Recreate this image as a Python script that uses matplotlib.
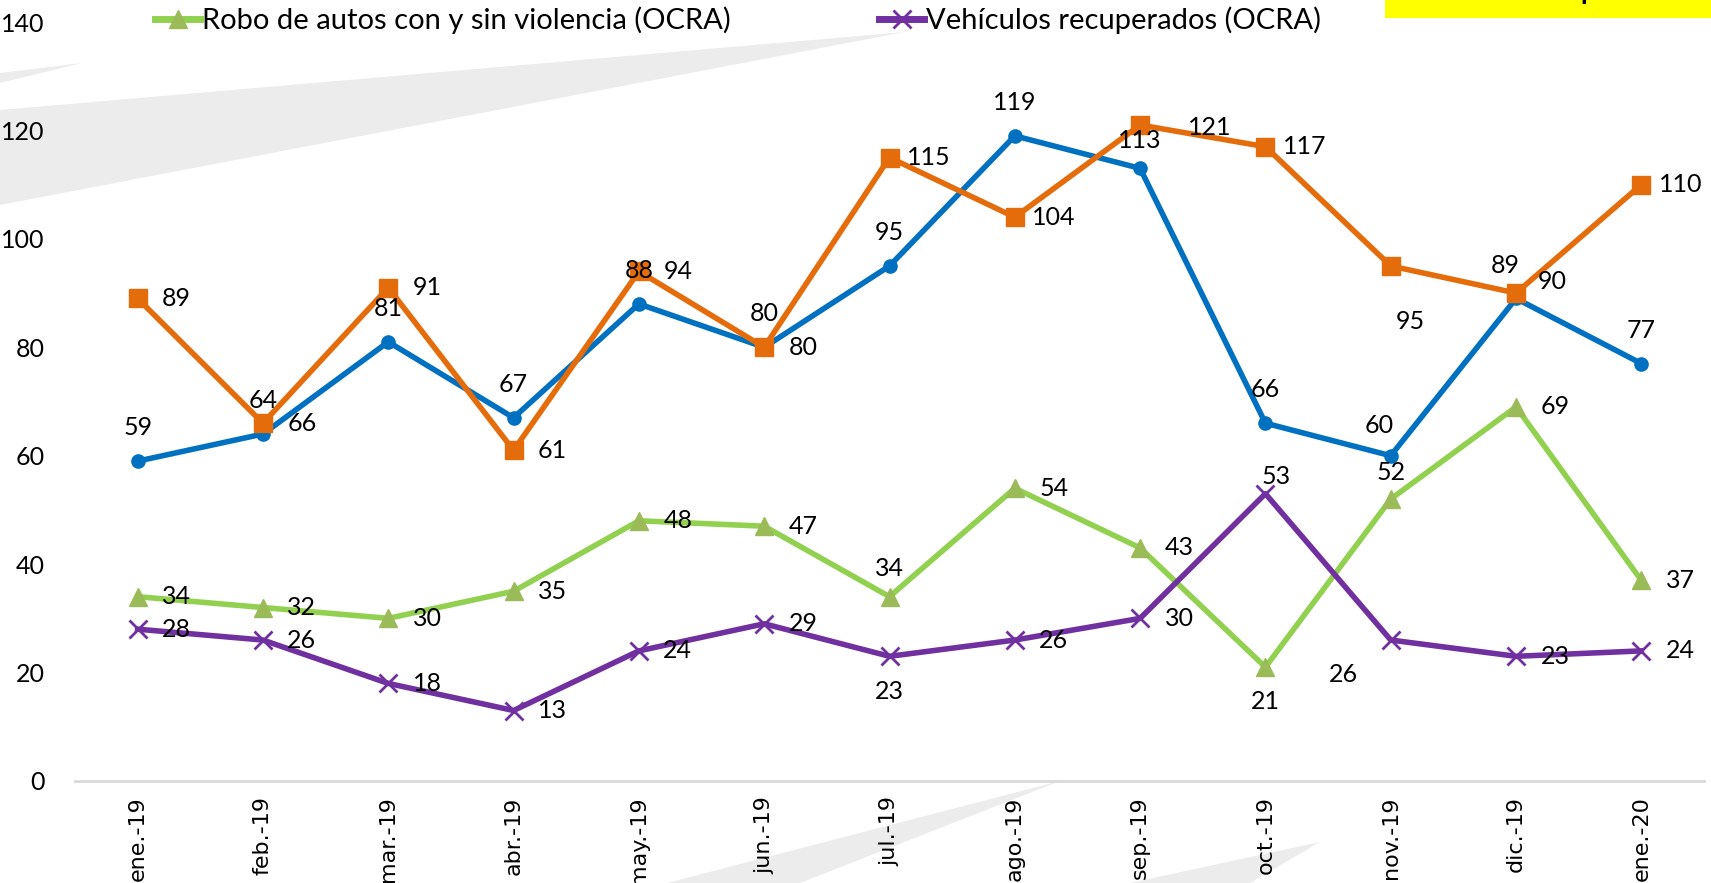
import matplotlib.pyplot as plt
from matplotlib.lines import Line2D
from matplotlib.patches import Polygon, Rectangle

plt.rcParams['font.family'] = ['Lato', 'DejaVu Sans']

# data
months = ["ene.-19", "feb.-19", "mar.-19", "abr.-19", "may.-19", "jun.-19", "jul.-19",
          "ago.-19", "sep.-19", "oct.-19", "nov.-19", "dic.-19", "ene.-20"]
serie_azul = [59, 64, 81, 67, 88, 80, 95, 119, 113, 66, 60, 89, 77]
serie_naranja = [89, 66, 91, 61, 94, 80, 115, 104, 121, 117, 95, 90, 110]
robo_autos = [34, 32, 30, 35, 48, 47, 34, 54, 43, 21, 52, 69, 37]
vehiculos_rec = [28, 26, 18, 13, 24, 29, 23, 26, 30, 53, 26, 23, 24]

# where each data label sits relative to its point (offset in points)
A, R, B = (0, 24), (28, 0), (0, -25)
pos_azul = [A, A, A, A, A, A, A, A, (0, 20), A, (-8, 22), (-8, 24), A]
pos_naranja = [R, R, R, R, R, R, R, R, (50, -2), R, (14, -40), (26, 8), R]
pos_robo = [R, R, R, R, R, R, (0, 20), R, R, B, (0, 19), R, R]
pos_veh = [R, R, R, R, R, R, B, R, R, (8, 12), (-34, -25), R, R]

W, H = 1711, 883
fig = plt.figure(figsize=(W / 100, H / 100), dpi=100)


def px(x, y):
    return (x / W, 1 - y / H)


# light grey decorative swooshes in the background
swooshes = [
    [(0, 110), (905, 32), (0, 205)],
    [(0, 73), (82, 63), (0, 83)],
    [(667, 883), (1060, 781), (800, 883)],
    [(1130, 883), (1320, 842), (1250, 883)],
]
for pts in swooshes:
    fig.patches.append(Polygon([px(*p) for p in pts], closed=True, transform=fig.transFigure,
                               facecolor="#ececec", edgecolor="none", zorder=-5))

ax = fig.add_axes([75 / W, 1 - 781 / H, 1629 / W, (781 - 22) / H])
ax.set_facecolor("none")

x = list(range(len(months)))
series = [
    (serie_azul, "#0070C0", "o", 9.5, pos_azul),
    (serie_naranja, "#E46C0A", "s", 13, pos_naranja),
    (robo_autos, "#92D050", "^", 13, pos_robo),
    (vehiculos_rec, "#7030A0", "x", 13, pos_veh),
]
for vals, color, mk, ms, pos in series:
    mfc = "#9bbb59" if mk == "^" else color
    ax.plot(x, vals, color=color, linewidth=4, marker=mk, markersize=ms,
            markerfacecolor=mfc, markeredgecolor=color if mk != "^" else mfc,
            markeredgewidth=2 if mk == "x" else 1, zorder=3)
    for xi, v, off in zip(x, vals, pos):
        ax.annotate(str(v), (xi, v), xytext=off, textcoords="offset points",
                    ha="center", va="center", fontsize=18, color="black", zorder=4)

ax.set_xlim(-0.5, 12.5)
ax.set_ylim(0, 140)
ax.set_yticks(range(0, 141, 20))
ax.set_xticks(x)
ax.set_xticklabels(months, rotation=90, family="DejaVu Sans", fontsize=16)
ax.tick_params(axis="y", length=0, pad=22, labelsize=18)
ax.tick_params(axis="x", length=0, pad=11)
for s in ["top", "right", "left"]:
    ax.spines[s].set_visible(False)
ax.spines["bottom"].set_color("#d9d9d9")
ax.spines["bottom"].set_linewidth(2)

# legend entries (only the second row is visible in the reference)
h_robo = Line2D([], [], color="#92D050", linewidth=5, marker="^", markersize=13,
                markerfacecolor="#9bbb59", markeredgecolor="#9bbb59")
h_veh = Line2D([], [], color="#7030A0", linewidth=5, marker="x", markersize=13,
               markeredgewidth=2)
fig.legend([h_robo], ["Robo de autos con y sin violencia (OCRA)"], loc="center left",
           bbox_to_anchor=px(155, 20), frameon=False, fontsize=21, handlelength=1.55,
           handletextpad=0.05, borderpad=0, borderaxespad=0)
fig.legend([h_veh], ["Vehículos recuperados (OCRA)"], loc="center left",
           bbox_to_anchor=px(879, 20), frameon=False, fontsize=21, handlelength=1.55,
           handletextpad=0.05, borderpad=0, borderaxespad=0)

# yellow note box at the top right, cut by the image border
fig.patches.append(Rectangle(px(1385, 18), (W - 1385) / W, 18 / H, transform=fig.transFigure,
                             facecolor="#ffff00", edgecolor="none", zorder=1))
fig.text(1540 / W, 1 + 1 / H, "Vehículos recuperados", ha="center", va="baseline",
         fontsize=20, fontweight="bold", color="black")

fig.savefig("out.png", dpi=100)
